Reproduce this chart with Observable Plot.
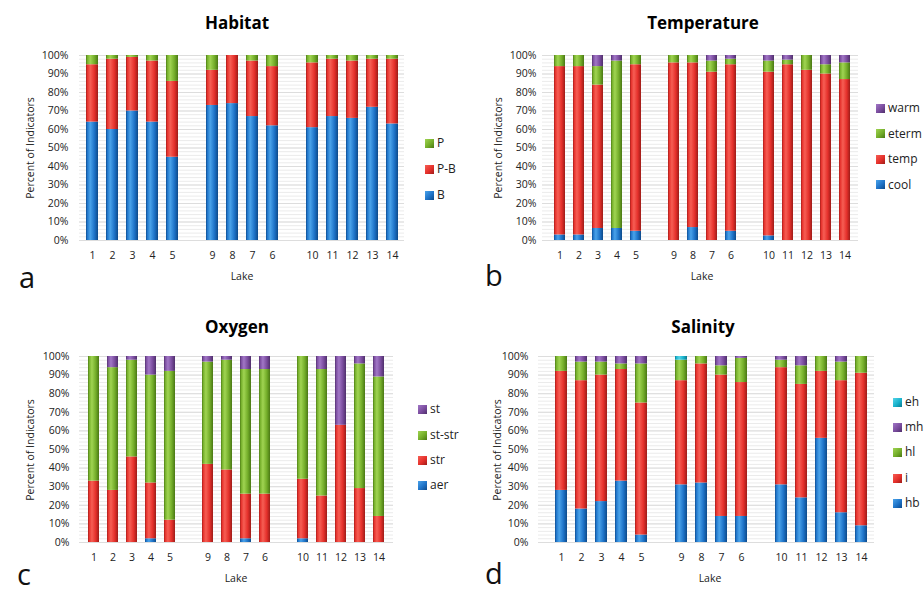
<!DOCTYPE html>
<html><head><meta charset="utf-8">
<script src="https://cdn.jsdelivr.net/npm/d3@7"></script>
<script src="https://cdn.jsdelivr.net/npm/@observablehq/plot@0.6"></script>
<style>
body{margin:0;background:#fff;}
#root{position:relative;width:924px;height:591px;overflow:hidden;font-family:"Open Sans",sans-serif;color:#222;}
.abs{position:absolute;white-space:nowrap;line-height:1;}
.title{font-weight:bold;font-size:17px;transform:translate(-50%,-50%);color:#000;}
.ylab{font-size:10.5px;transform:translate(-50%,-50%) rotate(-90deg);}
.xlab{font-size:10.5px;transform:translate(-50%,-50%);}
.letter{font-size:29px;transform:translate(0,-50%);color:#111;}
.leg{font-size:12px;transform:translate(0,-50%);display:flex;align-items:center;}
.sw{display:inline-block;width:9px;height:9px;margin-right:3px;}
.plot{position:absolute;}
</style></head><body>
<svg width="0" height="0" style="position:absolute"><defs id="gdefs"></defs></svg>
<div id="root"></div>
<script>
// ---- data ----
const lakes = ["1","2","3","4","5","9","8","7","6","10","11","12","13","14"];
const slots = ["1","2","3","4","5","gapA","9","8","7","6","gapB","10","11","12","13","14"];

const habitatB  = [64,60,70,64,45,73,74,67,62,61,67,66,72,63];
const habitatPB = [31,38,29,33,41,19,26,30,32,35,31,31,26,35];
const habitatP  = [5,2,1,3,14,8,0,3,6,4,2,3,2,2];

const tempCool  = [3,3,6.5,6.5,5,0,7,0,5,2.5,0,0,0,0];
const tempTemp  = [91,91,77.5,0,90,96,89,91,90,88.5,95,92,90,87];
const tempEterm = [6,6,10,90.5,5,4,4,6,3,6,2.5,8,5,9];
const tempWarm  = [0,0,6,3,0,0,0,3,2,3,2.5,0,5,4];

const oxyAer   = [0,0,0,2,0,0,0,2,0,2,0,0,0,0];
const oxyStr   = [33,28,46,30,12,42,39,24,26,32,25,63,29,14];
const oxyStStr = [67,66,52,58,80,55,59,67,67,66,68,0,67,75];
const oxySt    = [0,6,2,10,8,3,2,7,7,0,7,37,4,11];

const salHb = [28,18,22,33,4,31,32,14,14,31,24,56,16,9];
const salI  = [64,69,68,60,71,56,64,76,72,63,61,36,71,82];
const salHl = [8,10,7,3,21,11,4,5,13,4,10,8,10,9];
const salMh = [0,3,3,4,4,0,0,5,1,2,5,0,3,0];
const salEh = [0,0,0,0,0,2,0,0,0,0,0,0,0,0];

// ---- colours (gradient bevel) ----
const palette = {
  blue:   ["#0d4a8a","#4aa3ea","#1e73c8"],
  red:    ["#9e1c18","#f65e54","#e5302b"],
  green:  ["#4a7814","#a0d452","#74ae2a"],
  purple: ["#4f2f6b","#a177c6","#7a4c9e"],
  cyan:   ["#0b7a8e","#55d4e8","#18b2cc"]
};
const defs = document.getElementById("gdefs");
let gh = "";
for (const [k,[dk,lt,base]] of Object.entries(palette)) {
  gh += `<linearGradient id="g-${k}" x1="0" x2="1" y1="0" y2="0">
    <stop offset="0" stop-color="${dk}"/><stop offset="0.1" stop-color="${base}"/>
    <stop offset="0.35" stop-color="${lt}"/><stop offset="0.7" stop-color="${base}"/>
    <stop offset="1" stop-color="${dk}"/></linearGradient>`;
}
defs.innerHTML = gh;

const root = document.getElementById("root");
function addDiv(cls, x, y, html) {
  const d = document.createElement("div");
  d.className = "abs " + cls;
  d.style.left = x + "px"; d.style.top = y + "px";
  d.innerHTML = html;
  root.appendChild(d);
  return d;
}

function panel(cfg) {
  const data = [];
  cfg.series.forEach(s => s.values.forEach((v, i) =>
    data.push({lake: lakes[i], series: s.name, value: v, fill: `url(#g-${s.color})`})));
  const svg = Plot.plot({
    width: cfg.width, height: cfg.height,
    marginLeft: cfg.ml, marginRight: cfg.mr, marginTop: cfg.mt, marginBottom: cfg.mb,
    style: {fontFamily: "Open Sans", fontSize: "10.5px", color: "#222", background: "transparent"},
    x: {domain: slots, range: cfg.range, paddingInner: 0.4, paddingOuter: 0.2,
        tickSize: 0, tickPadding: 11, tickFormat: d => d.startsWith("gap") ? "" : d, label: null},
    y: {domain: [0, 100], ticks: 10, tickFormat: d => d + "%", tickSize: 0, tickPadding: cfg.tp, label: null},
    color: {type: "identity"},
    marks: [
      Plot.ruleY(d3.range(0, 101, 2), {stroke: "#ebebeb", strokeWidth: 1}),
      Plot.ruleY(d3.range(0, 101, 10), {stroke: "#dddddd", strokeWidth: 1}),
      Plot.barY(data, {x: "lake", y: "value", fill: "fill", z: "series"})
    ]
  });
  svg.classList.add("plot");
  svg.style.left = cfg.left + "px"; svg.style.top = cfg.top + "px";
  root.appendChild(svg);
}

panel({left: 0, top: 0, width: 462, height: 295, ml: 79, mr: 58, mt: 55, mb: 55, range: [80, 404], tp: 11,
  series: [{name: "B", values: habitatB, color: "blue"}, {name: "P-B", values: habitatPB, color: "red"}, {name: "P", values: habitatP, color: "green"}]});
panel({left: 462, top: 0, width: 462, height: 295, ml: 80, mr: 66, mt: 55, mb: 55, range: [85, 395.4], tp: 6,
  series: [{name: "cool", values: tempCool, color: "blue"}, {name: "temp", values: tempTemp, color: "red"}, {name: "eterm", values: tempEterm, color: "green"}, {name: "warm", values: tempWarm, color: "purple"}]});
panel({left: 0, top: 295, width: 462, height: 296, ml: 79, mr: 69, mt: 61, mb: 49, range: [79.2, 392.8], tp: 10,
  series: [{name: "aer", values: oxyAer, color: "blue"}, {name: "str", values: oxyStr, color: "red"}, {name: "st-str", values: oxyStStr, color: "green"}, {name: "st", values: oxySt, color: "purple"}]});
panel({left: 462, top: 295, width: 462, height: 296, ml: 76, mr: 50, mt: 61, mb: 49, range: [85.8, 411.5], tp: 10,
  series: [{name: "hb", values: salHb, color: "blue"}, {name: "i", values: salI, color: "red"}, {name: "hl", values: salHl, color: "green"}, {name: "mh", values: salMh, color: "purple"}, {name: "eh", values: salEh, color: "cyan"}]});

// titles
addDiv("title", 237, 22, "Habitat");
addDiv("title", 703, 22, "Temperature");
addDiv("title", 237, 326, "Oxygen");
addDiv("title", 703, 326, "Salinity");
// y labels
addDiv("ylab", 30, 148, "Percent of Indicators");
addDiv("ylab", 498, 148, "Percent of Indicators");
addDiv("ylab", 30, 450, "Percent of Indicators");
addDiv("ylab", 497, 450, "Percent of Indicators");
// x labels
addDiv("xlab", 242, 276, "Lake");
addDiv("xlab", 702, 276, "Lake");
addDiv("xlab", 236, 578, "Lake");
addDiv("xlab", 710, 578, "Lake");
// panel letters
addDiv("letter", 19, 276, "a");
addDiv("letter", 485, 274, "b");
addDiv("letter", 17, 573, "c");
addDiv("letter", 485, 572, "d");

// legends
const legendA = [["P","green",143],["P-B","red",169],["B","blue",195]];
const legendB = [["warm","purple",108],["eterm","green",133.5],["temp","red",159],["cool","blue",184.5]];
const legendC = [["st","purple",409],["st-str","green",435],["str","red",460],["aer","blue",485]];
const legendD = [["eh","cyan",402],["mh","purple",427],["hl","green",452],["i","red",478],["hb","blue",503]];
function legend(items, x) {
  for (const [name, col, y] of items) {
    const [dk, lt, base] = palette[col];
    addDiv("leg", x, y, `<span class="sw" style="background:linear-gradient(135deg, ${lt}, ${base} 55%, ${dk})"></span>${name}`);
  }
}
legend(legendA, 425);
legend(legendB, 876);
legend(legendC, 418);
legend(legendD, 893);
</script></body></html>
